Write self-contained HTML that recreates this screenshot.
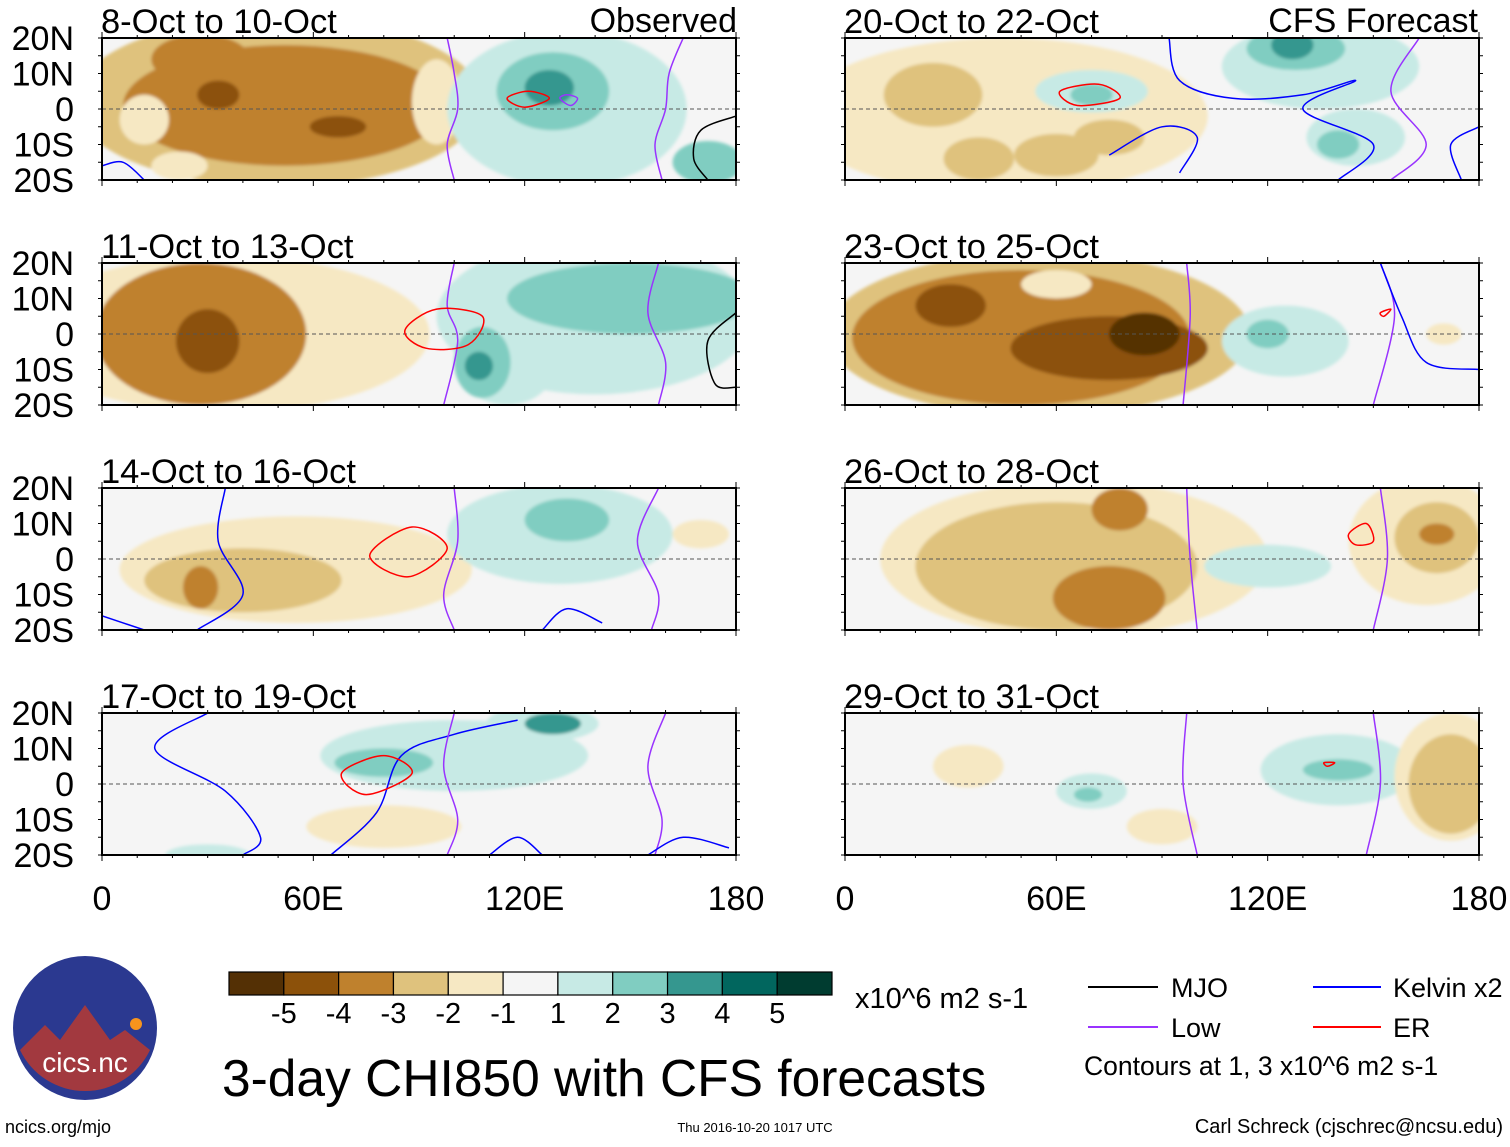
<!DOCTYPE html>
<html><head><meta charset="utf-8">
<style>
body{margin:0;background:#fff;width:1510px;height:1142px;overflow:hidden;font-family:"Liberation Sans",sans-serif}
svg text{font-family:"Liberation Sans",sans-serif}
</style></head><body>
<svg id="fig" width="1510" height="1142" viewBox="0 0 1510 1142" xmlns="http://www.w3.org/2000/svg">
<defs>
<filter id="soft" x="-10%" y="-10%" width="120%" height="120%"><feGaussianBlur stdDeviation="1.5"/></filter>
</defs>
</svg>
<script>
// ---- data ----
const levelLabels=["-5","-4","-3","-2","-1","1","2","3","4","5"];
const levelColors=["#543005","#8c510a","#bf812d","#dfc27d","#f6e8c3","#f5f5f5","#c7eae5","#80cdc1","#35978f","#01665e","#003c30"];
const latTicks=["20N","10N","0","10S","20S"];
const latVals=[20,10,0,-10,-20];
const lonTicks=["0","60E","120E","180"];
const lonVals=[0,60,120,180];
const panelTitles=["8-Oct to 10-Oct","20-Oct to 22-Oct","11-Oct to 13-Oct","23-Oct to 25-Oct","14-Oct to 16-Oct","26-Oct to 28-Oct","17-Oct to 19-Oct","29-Oct to 31-Oct"];
// anomaly blobs: [lon, lat, lonRadius, latRadius, colorIndex]
const blobs0=[[50,2,58,24,3],[52,1,46,17,2],[28,14,14,7,2],[12,-3,7,7,4],[22,-16,8,4,4],[33,4,6,4,1],[67,-5,8,3,1],[95,2,7,12,4],[132,0,34,22,6],[128,5,16,11,7],[127,6,7,5,8],[172,-15,10,6,7]];
const blobs1=[[45,-2,58,22,4],[25,4,14,9,3],[38,-14,10,6,3],[60,-13,12,6,3],[75,-8,10,5,3],[70,5,16,6,6],[70,4,6,3,7],[135,12,28,12,6],[128,17,14,6,7],[127,18,6,4,8],[145,-8,14,8,6],[140,-10,6,4,7]];
const blobs2=[[35,0,58,22,4],[28,0,30,20,2],[30,0,20,14,2],[30,-2,9,9,1],[140,5,45,22,6],[150,10,35,10,7],[115,-8,14,12,6],[108,-8,8,10,7],[107,-9,4,4,8]];
const blobs3=[[55,0,60,23,3],[50,-1,48,19,2],[30,8,10,6,1],[75,-4,28,9,1],[85,0,10,6,0],[60,14,10,4,4],[125,-2,18,10,6],[120,0,6,4,7],[170,0,5,3,4]];
const blobs4=[[55,-3,50,15,4],[40,-6,28,9,3],[28,-8,5,6,2],[130,7,32,14,6],[132,11,12,6,7],[170,7,8,4,4]];
const blobs5=[[65,0,55,22,4],[60,-2,40,18,3],[75,-11,16,9,2],[78,14,8,6,2],[165,5,22,18,4],[168,6,12,10,3],[168,7,5,3,2],[120,-2,18,6,6]];
const blobs6=[[80,-12,22,6,4],[100,8,38,10,6],[80,6,14,4,7],[125,17,16,5,6],[128,17,8,3,8],[30,-20,12,3,6]];
const blobs7=[[70,-2,10,5,6],[69,-3,4,2,7],[140,4,22,10,6],[140,4,10,3,7],[172,2,16,18,4],[172,0,12,14,3],[35,5,10,6,4],[90,-12,10,5,4]];
const panelBlobs=[blobs0,blobs1,blobs2,blobs3,blobs4,blobs5,blobs6,blobs7];
// contour lines (lon,lat pairs): [color, points, closed]
const lines0=[["#9933ff",[[98,20],[100,10],[101,0],[98,-10],[100,-20]]],["#9933ff",[[165,20],[161,10],[160,0],[157,-10],[159,-20]]],["#ff0000",[[115,3],[121,5],[127,3],[120,0.5]],1],["#9933ff",[[132,4],[135,3],[133,1],[130,3]],1],["#0000ff",[[0,-16],[6,-15],[12,-20]]],["#000",[[180,-2],[170,-6],[168,-14],[172,-20]]]];
const lines2=[["#9933ff",[[100,20],[98,8],[101,-2],[97,-20]]],["#9933ff",[[158,20],[155,6],[160,-8],[158,-20]]],["#ff0000",[[86,1],[95,7],[108,5],[104,-3],[92,-4]],1],["#000",[[180,6],[172,-2],[174,-14],[180,-15]]]];
const lines4=[["#9933ff",[[100,20],[101,5],[97,-10],[100,-20]]],["#9933ff",[[158,20],[152,5],[158,-10],[156,-20]]],["#ff0000",[[76,1],[88,9],[98,3],[87,-5]],1],["#0000ff",[[35,20],[33,5],[40,-10],[27,-20]]],["#0000ff",[[125,-20],[132,-14],[142,-18]]],["#0000ff",[[0,-16],[12,-20]]]];
const lines6=[["#0000ff",[[30,20],[15,10],[35,-2],[45,-15],[40,-20]]],["#0000ff",[[65,-20],[78,-8],[85,8],[100,14],[118,18]]],["#9933ff",[[100,20],[97,5],[101,-10],[98,-20]]],["#9933ff",[[160,20],[155,5],[159,-10],[157,-20]]],["#ff0000",[[68,3],[80,8],[88,3],[75,-3]],1],["#0000ff",[[110,-20],[118,-15],[125,-20]]],["#0000ff",[[155,-20],[165,-15],[178,-18]]]];
const lines1=[["#ff0000",[[61,5],[72,7],[78,3],[66,1]],1],["#0000ff",[[92,20],[95,8],[110,3],[130,4],[145,8],[130,0],[150,-10],[140,-20]]],["#0000ff",[[75,-13],[90,-5],[100,-8],[95,-18]]],["#0000ff",[[180,-5],[172,-10],[175,-20]]],["#9933ff",[[155,-20],[165,-10],[155,5],[163,20]]]];
const lines3=[["#9933ff",[[97,20],[98,5],[96,-20]]],["#9933ff",[[152,20],[156,5],[150,-20]]],["#0000ff",[[152,20],[158,5],[165,-8],[180,-10]]],["#ff0000",[[152,6],[155,7],[153,5]],1]];
const lines5=[["#9933ff",[[97,20],[98,0],[100,-20]]],["#9933ff",[[152,20],[154,0],[150,-20]]],["#ff0000",[[143,7],[148,10],[150,5],[145,4]],1]];
const lines7=[["#9933ff",[[97,20],[96,0],[100,-20]]],["#9933ff",[[150,20],[152,0],[148,-20]]],["#ff0000",[[136,6],[139,6],[137,5]],1]];
const panelLines=[lines0,lines1,lines2,lines3,lines4,lines5,lines6,lines7];

// ---- layout ----
const NS="http://www.w3.org/2000/svg";
const svg=document.getElementById('fig');
const colX=[102,845], W=634, rowY=[38,263,488,713], H=142;
function mk(tag,attrs,parent){const e=document.createElementNS(NS,tag);for(const k in attrs)e.setAttribute(k,attrs[k]);(parent||svg).appendChild(e);return e;}
function xs(p,lon){return colX[p%2]+lon/180*W;}
function ys(p,lat){return rowY[Math.floor(p/2)]+(20-lat)/40*H;}
function smooth(P,closed){
  const n=P.length;let d='M'+P[0][0].toFixed(1)+','+P[0][1].toFixed(1);
  const g=i=>closed?P[(i+n)%n]:P[Math.max(0,Math.min(n-1,i))];
  const m=closed?n:n-1;
  for(let i=0;i<m;i++){const p0=g(i-1),p1=g(i),p2=g(i+1),p3=g(i+2);
    const c1=[p1[0]+(p2[0]-p0[0])/6,p1[1]+(p2[1]-p0[1])/6],c2=[p2[0]-(p3[0]-p1[0])/6,p2[1]-(p3[1]-p1[1])/6];
    d+=' C'+c1.map(v=>v.toFixed(1)).join(',')+' '+c2.map(v=>v.toFixed(1)).join(',')+' '+p2[0].toFixed(1)+','+p2[1].toFixed(1);}
  return d+(closed?' Z':'');
}

for(let p=0;p<8;p++){
  const x0=colX[p%2], y0=rowY[Math.floor(p/2)];
  const g=mk('g',{});
  
  
  const cp=mk('clipPath',{id:'cp'+p},g);
  mk('rect',{x:x0,y:y0,width:W,height:H},cp);
  mk('rect',{x:x0,y:y0,width:W,height:H,fill:levelColors[5]},g);
  const inner=mk('g',{'clip-path':'url(#cp'+p+')'},g);
  const fg=mk('g',{filter:'url(#soft)'},inner);
  panelBlobs[p].forEach(b=>{
    const e=mk('ellipse',{cx:xs(p,b[0]),cy:ys(p,b[1]),rx:b[2]/180*W,ry:b[3]/40*H,fill:levelColors[b[4]]},fg);
    
    
  });
  mk('line',{x1:x0,y1:ys(p,0),x2:x0+W,y2:ys(p,0),stroke:'#555','stroke-dasharray':'4,3','stroke-width':1},inner);
  panelLines[p].forEach(l=>{
    const pts=l[1].map(q=>[xs(p,q[0]),ys(p,q[1])]);
    const pe=mk('path',{d:smooth(pts,!!l[2]),fill:'none',stroke:l[0],'stroke-width':1.5,'stroke-linejoin':'round'},inner);
    
    
  });
  mk('rect',{x:x0,y:y0,width:W,height:H,fill:'none',stroke:'#000','stroke-width':2},g);
  for(let lon=0;lon<=180;lon+=10){
    const L=(lon%60==0)?6:3;
    mk('line',{x1:xs(p,lon),y1:y0,x2:xs(p,lon),y2:y0-L,stroke:'#000'},g);
    mk('line',{x1:xs(p,lon),y1:y0+H,x2:xs(p,lon),y2:y0+H+L,stroke:'#000'},g);
  }
  for(let lat=-20;lat<=20;lat+=5){
    mk('line',{x1:x0,y1:ys(p,lat),x2:x0-4,y2:ys(p,lat),stroke:'#000'},g);
    mk('line',{x1:x0+W,y1:ys(p,lat),x2:x0+W+4,y2:ys(p,lat),stroke:'#000'},g);
  }
  const t=mk('text',{x:x0-1,y:y0-5,'font-size':34.5},g);t.textContent=panelTitles[p];
  
  if(p%2==0){
    latTicks.forEach((s,i)=>{const tt=mk('text',{x:74,y:ys(p,latVals[i])+12,'font-size':34,'text-anchor':'end'},g);tt.textContent=s;
      });
  }
}
[["Observed",737],["CFS Forecast",1478]].forEach(a=>{const t=mk('text',{x:a[1],y:32,'font-size':34,'text-anchor':'end'});t.textContent=a[0];
  });
for(let c=0;c<2;c++){lonTicks.forEach((s,i)=>{const t=mk('text',{x:xs(c,lonVals[i]),y:910,'font-size':34,'text-anchor':'middle'});t.textContent=s;
  });}

const cb=mk('g',{});
const cbx=229,cbw=603/11;
levelColors.forEach((c,i)=>mk('rect',{x:cbx+i*cbw,y:972,width:cbw,height:23,fill:c,stroke:'#000','stroke-width':1.2},cb));
levelLabels.forEach((s,i)=>{const t=mk('text',{x:cbx+(i+1)*cbw,y:1023,'font-size':29,'text-anchor':'middle'},cb);t.textContent=s;});
</script>
<svg width="1510" height="1142" style="position:absolute;left:0;top:0" xmlns="http://www.w3.org/2000/svg">
<text x="855" y="1008" font-size="29">x10^6 m2 s-1</text>
<text x="222" y="1096" font-size="51.5">3-day CHI850 with CFS forecasts</text>
<g>
<line x1="1088" y1="987" x2="1158" y2="987" stroke="#000" stroke-width="2"/><text x="1171" y="997" font-size="27">MJO</text>
<line x1="1313" y1="987" x2="1381" y2="987" stroke="#0000ff" stroke-width="2"/><text x="1393" y="997" font-size="27">Kelvin x2</text>
<line x1="1088" y1="1027" x2="1158" y2="1027" stroke="#9933ff" stroke-width="2"/><text x="1171" y="1037" font-size="27">Low</text>
<line x1="1313" y1="1027" x2="1381" y2="1027" stroke="#ff0000" stroke-width="2"/><text x="1393" y="1037" font-size="27">ER</text>
<text x="1084" y="1075" font-size="26.5">Contours at 1, 3 x10^6 m2 s-1</text>
</g>
<g>
<circle cx="85" cy="1028" r="72" fill="#2b3990"/>
<path d="M20,1050 L45,1025 L60,1040 L85,1005 L110,1040 L125,1030 L150,1050 A72,72 0 0 1 20,1050 Z" fill="#c0392b" opacity="0.8"/>
<circle cx="136" cy="1024" r="6" fill="#f7941d"/>
<text x="85" y="1072" font-size="28" fill="#fff" text-anchor="middle">cics.nc</text>
</g>
<text x="5" y="1133" font-size="18">ncics.org/mjo</text>
<text x="755" y="1132" font-size="13" text-anchor="middle">Thu 2016-10-20 1017 UTC</text>
<text x="1503" y="1133" font-size="20" text-anchor="end">Carl Schreck (cjschrec@ncsu.edu)</text>
</svg>
</body></html>
